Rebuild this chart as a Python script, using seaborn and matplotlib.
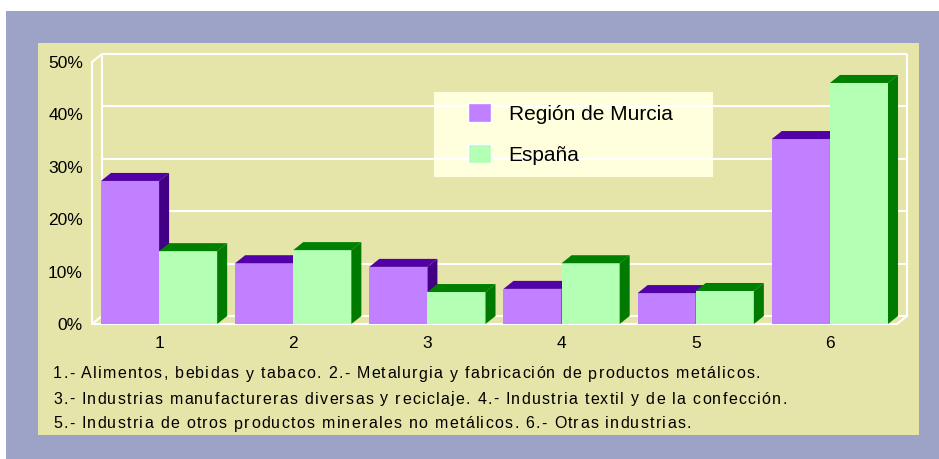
import numpy as np
import pandas as pd
import matplotlib
matplotlib.use("Agg")
import matplotlib.pyplot as plt
import seaborn as sns
from matplotlib.patches import Rectangle, Polygon
from matplotlib.font_manager import FontProperties, findfont
from matplotlib.ft2font import FT2Font

# Datos (porcentaje de cada sector)
sectores = ["1", "2", "3", "4", "5", "6"]
murcia = [27.3, 11.6, 10.9, 6.7, 5.9, 35.3]
espana = [13.9, 14.1, 6.1, 11.6, 6.3, 46.0]
series = ["Región de Murcia", "España"]
notas = [
    "1.- Alimentos, bebidas y tabaco. 2.- Metalurgia y fabricación de productos metálicos.",
    "3.- Industrias manufactureras diversas y reciclaje. 4.- Industria textil y de la confección.",
    "5.- Industria de otros productos minerales no metálicos. 6.- Otras industrias.",
]

df = pd.DataFrame({
    "sector": sectores * 2,
    "serie": [series[0]] * 6 + [series[1]] * 6,
    "valor": murcia + espana,
})

sns.set_style("white")
plt.rcParams["font.family"] = ["Liberation Sans", "DejaVu Sans"]
plt.rcParams["text.color"] = "black"

W, H = 939, 459
fig = plt.figure(figsize=(W / 100, H / 100), dpi=100, facecolor="white")

# Fondos
fig.patches.append(Rectangle((6 / W, 0), (W - 6) / W, (H - 11) / H, transform=fig.transFigure,
                             facecolor="#9DA3C6", edgecolor="none", zorder=-10))
fig.patches.append(Rectangle((38 / W, 1 - 435 / H), (919 - 38) / W, (435 - 43) / H,
                             transform=fig.transFigure, facecolor="#E5E4A9",
                             edgecolor="none", zorder=-9))
fig.patches.append(Rectangle((434 / W, 1 - 177 / H), (713 - 434) / W, (177 - 92) / H,
                             transform=fig.transFigure, facecolor="#FFFFDD",
                             edgecolor="none", zorder=-8))

x0, x1, y0, y1 = 92, 897, 324, 62
ax = fig.add_axes([x0 / W, 1 - y0 / H, (x1 - x0) / W, (y0 - y1) / H])
ax.set_facecolor("none")

colores = {series[0]: "#C080FF", series[1]: "#B3FFB3"}
sns.barplot(data=df, x="sector", y="valor", hue="serie", palette=colores,
            width=0.866, saturation=1, ax=ax, legend=True)
ax.set_xlim(-0.5, 5.5)
ax.set_ylim(0, 50)

# profundidad 3D en unidades de datos (10 px, 8 px)
dx = 10 * 6 / (x1 - x0)
dy = 8 * 50 / (y0 - y1)

blanco = dict(color="white", lw=1.5, clip_on=False)
ticks = np.arange(0, 51, 10)
ax.hlines(ticks + dy, -0.5 + dx, 5.5 + dx, zorder=0.5, **blanco)
ax.vlines([-0.5 + dx, 5.5 + dx], dy, 50 + dy, zorder=0.5, **blanco)
ax.plot([-0.5, -0.5 + dx], [50, 50 + dy], zorder=0.5, **blanco)
ax.plot([-0.5, -0.5 + dx], [0, dy], zorder=0.5, **blanco)
ax.plot([5.5, 5.5 + dx], [0, dy], zorder=0.5, **blanco)

caras = [("#5200A8", "#420085"), ("#008000", "#007A00")]
for k, cont in enumerate(ax.containers):
    top_c, side_c = caras[k]
    z = 3 + k
    for bar in cont:
        bx = bar.get_x()
        bw = bar.get_width()
        h = bar.get_height()
        bar.set_edgecolor("none")
        bar.set_zorder(z)
        ax.add_patch(Polygon([(bx, h), (bx + bw, h), (bx + bw + dx, h + dy), (bx + dx, h + dy)],
                             closed=True, facecolor=top_c, edgecolor="none", zorder=z, clip_on=False))
        ax.add_patch(Polygon([(bx + bw, 0), (bx + bw, h), (bx + bw + dx, h + dy), (bx + bw + dx, dy)],
                             closed=True, facecolor=side_c, edgecolor="none", zorder=z, clip_on=False))

ax.set_yticks(ticks)
ax.set_yticklabels([f"{t}%" for t in ticks])
ax.set_xlabel("")
ax.set_ylabel("")
ax.tick_params(axis="y", length=0, pad=6.5, labelsize=12.5, labelcolor="black")
ax.tick_params(axis="x", length=0, pad=9, labelsize=12.5, labelcolor="black")
for s in ["top", "right"]:
    ax.spines[s].set_visible(False)
for s in ["left", "bottom"]:
    ax.spines[s].set_color("white")
    ax.spines[s].set_linewidth(1.5)
    ax.spines[s].set_zorder(0.6)

handles, labels = ax.get_legend_handles_labels()
ax.legend(handles, labels, loc="upper left", bbox_to_anchor=(468 / W, 1 - 103 / H),
          bbox_transform=fig.transFigure, frameon=False, fontsize=15,
          handlelength=1.1, handleheight=1.03, handletextpad=0.85,
          labelspacing=0.98, borderpad=0, borderaxespad=0, labelcolor="black")

# notas al pie con espaciado entre letras como en el original
tam = 11.5
fuente = FT2Font(findfont(FontProperties(family="Liberation Sans")))
fuente.set_size(tam, 100)
espaciado = 1.3
for i, nota in enumerate(notas):
    xp = 53
    yp = 1 - (374 + 25 * i) / H
    for c in nota:
        fig.text(xp / W, yp, c, fontsize=tam, va="center", ha="left", color="black")
        xp += fuente.load_char(ord(c)).linearHoriAdvance / 65536 + espaciado

fig.savefig("out.png", dpi=100)
